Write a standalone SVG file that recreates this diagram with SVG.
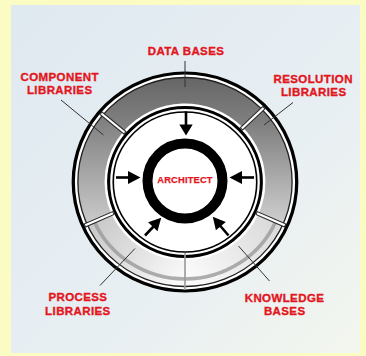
<svg xmlns="http://www.w3.org/2000/svg" width="366" height="356" viewBox="0 0 366 356">
<style>
.lbl{font-family:"Liberation Sans",Arial,sans-serif;font-weight:bold;font-size:11.5px;letter-spacing:0.4px;fill:#e3161d;stroke:#e3161d;stroke-width:0.35;text-anchor:middle}
.lead{stroke:#333;stroke-width:1;fill:none}
.arr{stroke:#000;stroke-width:2.6;fill:none}
.head{fill:#000}
.divd{stroke:#2a2a2a;stroke-width:4.2}
.divw{stroke:#fff;stroke-width:2.2}
</style>
<defs>
<linearGradient id="bg" x1="0" y1="0" x2="1" y2="1">
<stop offset="0" stop-color="#dfe9f0"/>
<stop offset="0.6" stop-color="#e8eff3"/>
<stop offset="1" stop-color="#f3f6ee"/>
</linearGradient>
<linearGradient id="gDB" gradientUnits="userSpaceOnUse" x1="0" y1="-104" x2="0" y2="-50">
<stop offset="0" stop-color="#666"/>
<stop offset="1" stop-color="#858585"/>
</linearGradient>
<linearGradient id="gComp" gradientUnits="userSpaceOnUse" x1="0" y1="-70" x2="0" y2="45">
<stop offset="0" stop-color="#7a7a7a"/>
<stop offset="1" stop-color="#cdcdcd"/>
</linearGradient>
<linearGradient id="gRes" gradientUnits="userSpaceOnUse" x1="0" y1="-72" x2="0" y2="45">
<stop offset="0" stop-color="#747474"/>
<stop offset="1" stop-color="#d2d2d2"/>
</linearGradient>
<linearGradient id="gProc" gradientUnits="userSpaceOnUse" x1="-90" y1="35" x2="-10" y2="100">
<stop offset="0" stop-color="#c6c6c6"/>
<stop offset="1" stop-color="#f8f8f8"/>
</linearGradient>
<linearGradient id="gKnow" gradientUnits="userSpaceOnUse" x1="10" y1="100" x2="90" y2="35">
<stop offset="0" stop-color="#fafafa"/>
<stop offset="1" stop-color="#d8d8d8"/>
</linearGradient>
</defs>

<rect x="0" y="0" width="366" height="356" fill="#fbfbc4"/>
<rect x="11" y="5" width="349" height="348" fill="url(#bg)"/>

<g id="ring" transform="translate(185,182) scale(1.025,1)">
<circle r="109" fill="#fff"/>
<g id="seg-databases"><path d="M75.17 -72.60 A104.5 104.5 0 0 0 -80.05 -67.17 L-60.13 -50.46 A78.5 78.5 0 0 1 56.47 -54.53 Z" fill="url(#gDB)"/></g>
<g id="seg-component"><path d="M-80.05 -67.17 A104.5 104.5 0 0 0 -95.46 42.50 L-71.71 31.93 A78.5 78.5 0 0 1 -60.13 -50.46 Z" fill="url(#gComp)"/></g>
<g id="seg-process"><path d="M-95.46 42.50 A104.5 104.5 0 0 0 0 104.5 L0 78.5 A78.5 78.5 0 0 1 -71.71 31.93 Z" fill="url(#gProc)"/></g>
<g id="seg-knowledge"><path d="M0 104.5 A104.5 104.5 0 0 0 95.46 42.50 L71.71 31.93 A78.5 78.5 0 0 1 0 78.5 Z" fill="url(#gKnow)"/></g>
<g id="seg-resolution"><path d="M95.46 42.50 A104.5 104.5 0 0 0 75.17 -72.60 L56.47 -54.53 A78.5 78.5 0 0 1 71.71 31.93 Z" fill="url(#gRes)"/></g>
<path d="M-88.61 39.45 A97 97 0 0 0 88.61 39.45" fill="none" stroke="#9a9a9a" stroke-width="3.5" stroke-opacity="0.8"/>
<circle r="104.5" fill="none" stroke="#222" stroke-width="1.3"/>
<circle r="109" fill="none" stroke="#000" stroke-width="3.2"/>
<circle r="74.5" fill="none" stroke="#000" stroke-width="3"/>
<circle r="70" fill="none" stroke="#000" stroke-width="1.6"/>
<g id="dividers">
<line class="divd" x1="54.67" y1="-52.80" x2="77.32" y2="-74.68"/>
<line class="divd" x1="-58.22" y1="-48.85" x2="-82.35" y2="-69.10"/>
<line class="divd" x1="-69.43" y1="30.91" x2="-98.20" y2="43.72"/>
<line class="divd" x1="69.43" y1="30.91" x2="98.20" y2="43.72"/>
<line class="divw" x1="55.4" y1="-53.5" x2="76.6" y2="-74.0"/>
<line class="divw" x1="-59.0" y1="-49.5" x2="-81.6" y2="-68.5"/>
<line class="divw" x1="-70.3" y1="31.3" x2="-97.3" y2="43.3"/>
<line class="divw" x1="70.3" y1="31.3" x2="97.3" y2="43.3"/>
<line x1="0" y1="71" x2="0" y2="108" stroke="#9a9a9a" stroke-width="1.6"/>
</g>
</g>

<g id="architect">
<circle cx="185" cy="181" r="37.5" fill="none" stroke="#000" stroke-width="10"/>
<text class="lbl" x="185" y="183.3" style="font-size:9.3px;letter-spacing:0.2px;stroke-width:0.25">ARCHITECT</text>
</g>

<g id="connectors">
<line class="arr" x1="186" y1="111.5" x2="186" y2="126"/>
<polygon class="head" points="179.3,124.5 192.7,124.5 186,135.5"/>
<line class="arr" x1="116" y1="177.5" x2="130" y2="177.5"/>
<polygon class="head" points="128,171 128,184 140.5,177.5"/>
<line class="arr" x1="254" y1="177.5" x2="240" y2="177.5"/>
<polygon class="head" points="242,171 242,184 229.5,177.5"/>
<line class="arr" x1="145" y1="235.5" x2="154" y2="226"/>
<polygon class="head" points="157.5,231.2 148.1,222.3 161.2,217.8"/>
<line class="arr" x1="228.5" y1="235.5" x2="220" y2="225.5"/>
<polygon class="head" points="225.8,221.9 215.9,230.3 212.8,216.8"/>
<line class="lead" x1="185" y1="61" x2="185" y2="87"/>
<line class="lead" x1="61" y1="100" x2="103.5" y2="135"/>
<line class="lead" x1="293" y1="102.5" x2="264" y2="125"/>
<line class="lead" x1="100" y1="285.5" x2="135" y2="248.5"/>
<line class="lead" x1="269.5" y1="281" x2="238.5" y2="246"/>
</g>

<g id="label-databases"><text class="lbl" x="186" y="55">DATA BASES</text></g>
<g id="label-component"><text class="lbl" x="59.7" y="81.2">COMPONENT</text><text class="lbl" x="59.7" y="94.4">LIBRARIES</text></g>
<g id="label-resolution"><text class="lbl" x="313.2" y="82.8">RESOLUTION</text><text class="lbl" x="313.7" y="96">LIBRARIES</text></g>
<g id="label-process"><text class="lbl" x="77.9" y="301.4">PROCESS</text><text class="lbl" x="77.9" y="314.6">LIBRARIES</text></g>
<g id="label-knowledge"><text class="lbl" x="284.5" y="302.1">KNOWLEDGE</text><text class="lbl" x="284.7" y="315.3">BASES</text></g>
</svg>
